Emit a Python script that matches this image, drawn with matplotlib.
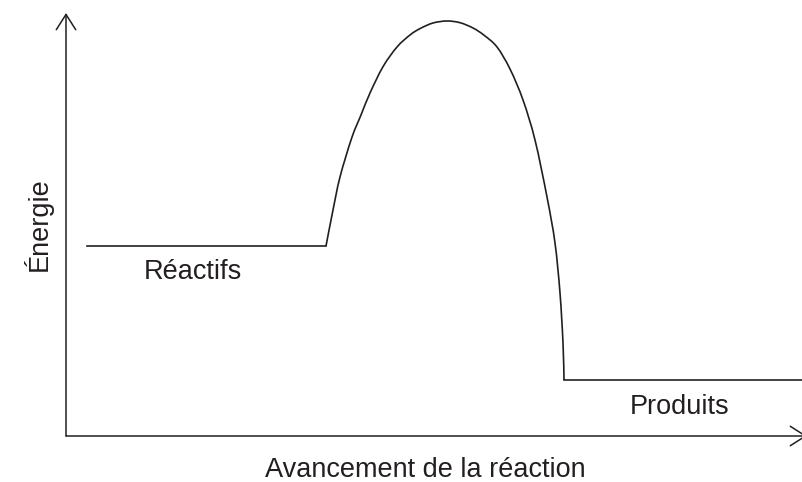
import numpy as np
import matplotlib
matplotlib.use("Agg")
import matplotlib.pyplot as plt
from matplotlib.path import Path
from matplotlib.patches import PathPatch

# profil d'énergie (unités arbitraires)
reactifs_x = [21, 260]
reactifs_y = [190, 190]

courbe_x = [260, 267, 274, 285.7, 295, 304, 317, 331, 344, 354, 367, 381,
            394, 407, 418, 431, 444, 457, 469, 481, 489, 494, 497, 498]
courbe_y = [190, 226, 259, 298, 321, 343, 369.3, 389, 401, 407.4, 413, 415,
            413.3, 408, 400.8, 389, 367, 336, 296, 239, 193, 143, 93, 56]

produits_x = [498, 736]
produits_y = [56, 56]

etiquettes = ["Réactifs", "Produits"]
etiq_pos = [(127, 157), (614, 22)]

couleur = "#231f20"
plt.rcParams['font.family'] = ['Liberation Sans', 'DejaVu Sans']


# tracé lisse (Catmull-Rom -> Bézier) passant par les points lus
def chemin_lisse(xs, ys):
  p = np.column_stack([xs, ys]).astype(float)
  verts = [p[0]]
  codes = [Path.MOVETO]
  for i in range(len(p) - 1):
    p0 = p[i - 1] if i > 0 else p[i]
    p3 = p[i + 2] if i + 2 < len(p) else p[i + 1]
    c1 = p[i] + (p[i + 1] - p0) / 6
    c2 = p[i + 1] - (p3 - p[i]) / 6
    verts += [c1, c2, p[i + 1]]
    codes += [Path.CURVE4] * 3
  return Path(verts, codes)


fig = plt.figure(figsize=(8.02, 4.82), dpi=100)
ax = fig.add_axes([66/802, 46/482, 736/802, 423/482])
ax.set_xlim(0, 736)
ax.set_ylim(0, 423)
ax.axis('off')

# axes avec flèches
fleche = dict(arrowstyle='->,head_length=0.55,head_width=0.35', color=couleur,
              lw=1.1, mutation_scale=20, shrinkA=0, shrinkB=0)
ax.annotate('', xy=(0, 423), xytext=(0, 0), arrowprops=fleche, annotation_clip=False)
ax.annotate('', xy=(741, 0), xytext=(0, 0), arrowprops=fleche, annotation_clip=False)

ax.plot(reactifs_x, reactifs_y, color=couleur, lw=1.2, clip_on=False)
ax.add_patch(PathPatch(chemin_lisse(courbe_x, courbe_y), fill=False,
                       edgecolor=couleur, lw=1.2, clip_on=False))
ax.plot(produits_x, produits_y, color=couleur, lw=1.2, clip_on=False)

for t, (x, y) in zip(etiquettes, etiq_pos):
    ax.text(x, y, t, fontsize=19.5, ha='center', va='baseline', color=couleur)

ax.text(-19, 212, "Énergie", fontsize=19.5, rotation=90, rotation_mode='anchor',
        ha='center', va='baseline', color=couleur, clip_on=False)
ax.text(359, -41, "Avancement de la réaction", fontsize=19.5, ha='center',
        va='baseline', color=couleur, clip_on=False)

fig.savefig("out.png", dpi=100)
